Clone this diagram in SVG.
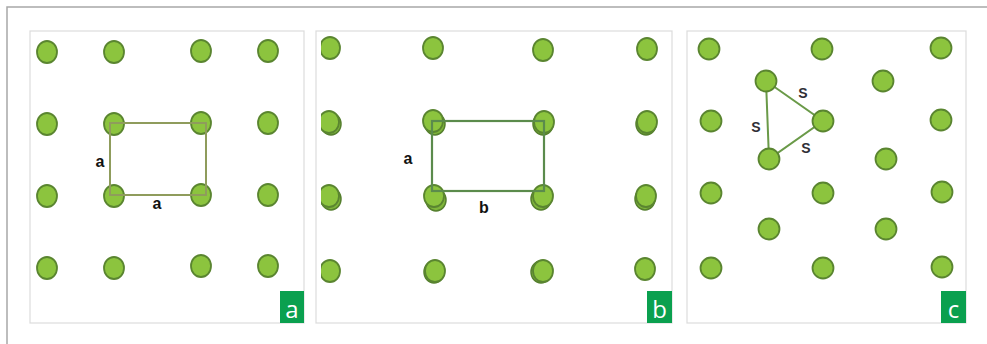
<svg xmlns="http://www.w3.org/2000/svg" xmlns:xlink="http://www.w3.org/1999/xlink" width="987" height="344" viewBox="0 0 987 344">
<style>
.frame{fill:none;stroke:#a8a8a8;stroke-width:1.5}
.panel{fill:#ffffff;stroke:#dcdcdc;stroke-width:1.2}
.atom{fill:#8cc43e;stroke:#5a8530;stroke-width:1.8}
.atom2{fill:#7fb63a;stroke:#557f2e;stroke-width:1.5}
.lbl{font-family:"Liberation Sans",Arial,sans-serif;font-weight:bold;font-size:16px;fill:#111;text-anchor:middle}
.lblc{font-family:"Liberation Sans",Arial,sans-serif;font-weight:bold;font-size:14px;fill:#2f2f36;text-anchor:middle}
.tagbox{fill:#0aa04f}
.tag{font-family:"Open Sans","Noto Sans",sans-serif;font-size:24px;fill:#ffffff;text-anchor:middle}
</style>
<defs>
<ellipse id="at" class="atom" cx="0" cy="0" rx="10" ry="11"/>
<circle id="atc" class="atom" cx="0" cy="0" r="10.5"/>
<clipPath id="clipb"><rect x="321" y="31" width="351" height="292"/></clipPath>
</defs>
<rect width="987" height="344" fill="#ffffff"/>
<path class="frame" d="M7,344 V7 H987"/>

<g id="panel-a">
<rect class="panel" x="30" y="31" width="274" height="292"/>
<g id="atoms-a">
<use xlink:href="#at" x="47" y="52"/><use xlink:href="#at" x="114" y="52"/><use xlink:href="#at" x="201" y="51"/><use xlink:href="#at" x="268" y="51"/>
<use xlink:href="#at" x="47" y="124"/><use xlink:href="#at" x="114" y="124"/><use xlink:href="#at" x="201" y="123"/><use xlink:href="#at" x="268" y="123"/>
<use xlink:href="#at" x="47" y="196"/><use xlink:href="#at" x="114" y="196"/><use xlink:href="#at" x="201" y="195"/><use xlink:href="#at" x="268" y="195"/>
<use xlink:href="#at" x="47" y="268"/><use xlink:href="#at" x="114" y="268"/><use xlink:href="#at" x="201" y="266"/><use xlink:href="#at" x="268" y="266"/>
</g>
<text class="lbl" x="100" y="167">a</text>
<text class="lbl" x="157" y="209">a</text>
<rect class="tagbox" x="280" y="291" width="24" height="32"/>
<text class="tag" x="292" y="318">a</text>
</g>

<g id="panel-b">
<rect class="panel" x="316" y="31" width="356" height="292"/>
<g id="atoms-b" clip-path="url(#clipb)">
<use xlink:href="#at" x="330" y="48"/><use xlink:href="#at" x="433" y="48"/><use xlink:href="#at" x="543" y="50"/><use xlink:href="#at" x="647" y="49"/>
<ellipse class="atom2" cx="331" cy="124" rx="10" ry="11"/><use xlink:href="#at" x="329" y="122"/>
<ellipse class="atom2" cx="435" cy="124" rx="10" ry="11"/><use xlink:href="#at" x="433" y="121"/>
<ellipse class="atom2" cx="543" cy="124" rx="10" ry="11"/><use xlink:href="#at" x="544" y="122"/>
<ellipse class="atom2" cx="646" cy="124" rx="10" ry="11"/><use xlink:href="#at" x="647" y="122"/>
<ellipse class="atom2" cx="331" cy="199" rx="10" ry="11"/><use xlink:href="#at" x="329" y="196"/>
<ellipse class="atom2" cx="436" cy="200" rx="10" ry="11"/><use xlink:href="#at" x="434" y="196"/>
<ellipse class="atom2" cx="541" cy="199" rx="10" ry="11"/><use xlink:href="#at" x="543" y="196"/>
<ellipse class="atom2" cx="645" cy="199" rx="10" ry="11"/><use xlink:href="#at" x="646" y="196"/>
<use xlink:href="#at" x="330" y="271"/>
<ellipse class="atom2" cx="434" cy="272" rx="10" ry="11"/><use xlink:href="#at" x="435" y="271"/>
<ellipse class="atom2" cx="541" cy="272" rx="10" ry="11"/><use xlink:href="#at" x="543" y="271"/>
<use xlink:href="#at" x="645" y="269"/>
</g>
<text class="lbl" x="408" y="164">a</text>
<text class="lbl" x="484" y="213">b</text>
<rect class="tagbox" x="647" y="291" width="25" height="32"/>
<text class="tag" x="659.5" y="318">b</text>
</g>

<g id="panel-c">
<rect class="panel" x="687" y="31" width="279" height="292"/>
<g id="atoms-c">
<use xlink:href="#atc" x="709" y="49"/><use xlink:href="#atc" x="822" y="49"/><use xlink:href="#atc" x="941" y="48"/>
<use xlink:href="#atc" x="883" y="81"/>
<use xlink:href="#atc" x="711" y="121"/><use xlink:href="#atc" x="941" y="120"/>
<use xlink:href="#atc" x="886" y="159"/>
<use xlink:href="#atc" x="711" y="193"/><use xlink:href="#atc" x="823" y="193"/><use xlink:href="#atc" x="942" y="192"/>
<use xlink:href="#atc" x="769" y="229"/><use xlink:href="#atc" x="886" y="229"/>
<use xlink:href="#atc" x="711" y="268"/><use xlink:href="#atc" x="823" y="268"/><use xlink:href="#atc" x="942" y="267"/>
</g>
<text class="lblc" x="803" y="98">S</text>
<text class="lblc" x="756" y="132">S</text>
<text class="lblc" x="806" y="153">S</text>
<rect class="tagbox" x="941" y="291" width="25" height="32"/>
<text class="tag" x="953.5" y="318">c</text>
</g>

<g id="connectors">
<rect x="110" y="123" width="96" height="72" fill="none" stroke="#8f9c5c" stroke-width="2"/>
<rect x="432" y="121" width="112" height="70" fill="none" stroke="#5b8b4c" stroke-width="2.2"/>
<path d="M766,81 L823,121 L769,159 Z" fill="none" stroke="#6a9a48" stroke-width="2"/>
</g>

<g id="triangle-atoms">
<use xlink:href="#atc" x="766" y="81"/>
<use xlink:href="#atc" x="823" y="121"/>
<use xlink:href="#atc" x="769" y="159"/>
</g>
</svg>
